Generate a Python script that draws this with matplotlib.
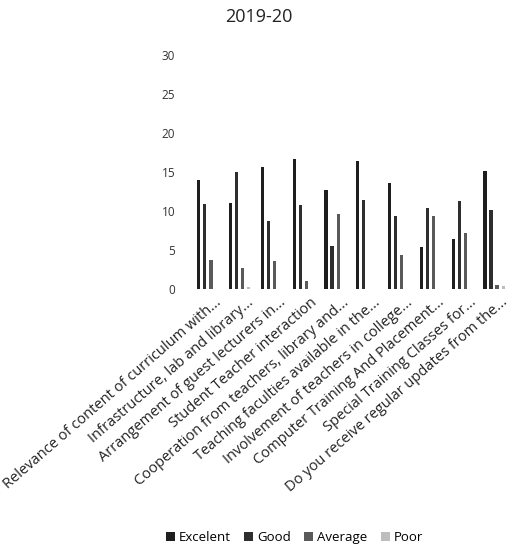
import numpy as np
import matplotlib.pyplot as plt
import matplotlib.transforms as mtransforms

# categorias e valores
categorias = [
    "Relevance of content of curriculum with...",
    "Infrastructure, lab and library...",
    "Arrangement of guest lecturers in...",
    "Student Teacher interaction",
    "Cooperation from teachers, library and...",
    "Teaching faculties available in the...",
    "Involvement of teachers in college...",
    "Computer Training And Placement...",
    "Special Training Classes for...",
    "Do you receive regular updates from the...",
]
excelente = [14, 11, 15.7, 16.7, 12.7, 16.5, 13.6, 5.4, 6.4, 15.1]
bom = [10.9, 15, 8.8, 10.8, 5.5, 11.5, 9.4, 10.4, 11.3, 10.1]
medio = [3.8, 2.7, 3.6, 1, 9.6, 0, 4.4, 9.4, 7.2, 0.5]
ruim = [0, 0.3, 0, 0, 0, 0, 0, 0, 0, 0.4]

series = ["Excelent", "Good", "Average", "Poor"]
cores = ["#1e1e1e", "#2e2e2e", "#5a5a5a", "#bdbdbd"]

plt.rcParams['font.family'] = ['Open Sans', 'DejaVu Sans']

fig = plt.figure(figsize=(5.12, 5.52), dpi=100)
ax = fig.add_axes([0.375, 0.476, 0.621, 0.424])

x = np.arange(len(categorias))
passo = 0.19
largura = 0.1
for i, (vals, nome, cor) in enumerate(zip([excelente, bom, medio, ruim], series, cores)):
    ax.bar(x + (i - 1.5) * passo, vals, largura, color=cor, label=nome)

ax.set_xlim(-0.5, len(categorias) - 0.5)
ax.set_ylim(0, 30)
ax.set_yticks(range(0, 31, 5))
ax.tick_params(axis='y', length=0, pad=12, labelsize=8.5, labelcolor='#333333')
ax.tick_params(axis='x', length=0, pad=4)
ax.set_xticks(x)
ax.set_xticklabels(categorias, rotation=41, ha='right', rotation_mode='anchor',
                   fontsize=10.5, color='#222222')
# desloca os rótulos um pouco para a direita, como no original
desloc = mtransforms.ScaledTranslation(7 / 100, 0, fig.dpi_scale_trans)
for lbl in ax.get_xticklabels():
    lbl.set_transform(lbl.get_transform() + desloc)
for s in ax.spines.values():
    s.set_visible(False)

fig.suptitle("2019-20", x=0.505, y=0.985, fontsize=13, color='#222222')

fig.legend(loc='center', bbox_to_anchor=(0.575, 0.026), ncol=4, frameon=False,
           fontsize=9.5, handlelength=0.7, handleheight=0.7, handletextpad=0.3,
           columnspacing=1.0)

plt.savefig("out.png", dpi=100)
